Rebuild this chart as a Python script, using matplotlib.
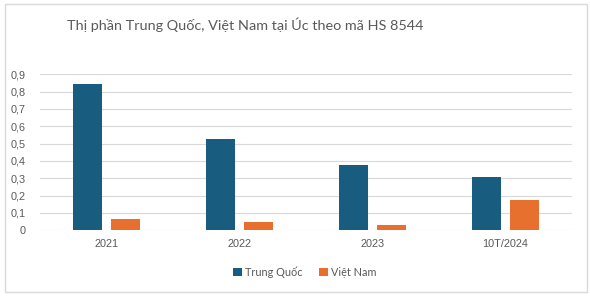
import numpy as np
import matplotlib.pyplot as plt
from matplotlib.patches import Rectangle

years = ["2021", "2022", "2023", "10T/2024"]
trung_quoc = [0.845, 0.527, 0.377, 0.308]
viet_nam = [0.065, 0.048, 0.032, 0.175]
yticks = [0, 0.1, 0.2, 0.3, 0.4, 0.5, 0.6, 0.7, 0.8, 0.9]

blue = "#185C80"
orange = "#E8702F"

fig = plt.figure(figsize=(5.9, 2.96), dpi=100)
ax = fig.add_axes([40 / 590, (296 - 230.3) / 296, 532 / 590, 156 / 296])

x = np.arange(len(years))
w = 0.22
off = 0.141
ax.bar(x - off, trung_quoc, w, color=blue, label="Trung Quốc", zorder=3)
ax.bar(x + off, viet_nam, w, color=orange, label="Việt Nam", zorder=3)

ax.set_xlim(-0.5, len(years) - 0.5)
ax.set_ylim(0, 0.9)
ax.set_yticks(yticks)
ax.set_yticklabels([("%g" % v).replace(".", ",") for v in yticks])
ax.set_xticks(x)
ax.set_xticklabels(years)
ax.tick_params(length=0, labelsize=7.8, colors="#595959", pad=10)
ax.tick_params(axis="x", pad=6)
for lab in ax.get_xticklabels() + ax.get_yticklabels():
    lab.set_family("Liberation Sans")
ax.grid(axis="y", color="#D9D9D9", linewidth=0.8, zorder=0)
for s in ax.spines.values():
    s.set_visible(False)

fig.text(67 / 590, 1 - 25 / 296, "Thị phần Trung Quốc, Việt Nam tại Úc theo mã HS 8544",
         fontsize=10.4, family="Lato", color="#595959", va="center", ha="left")

ax.legend(loc="center", ncol=2, frameon=False,
          prop={"family": "Lato", "size": 7.8}, handlelength=0.8, handleheight=0.8,
          handletextpad=0.3, columnspacing=1.5, labelcolor="#595959")
leg = ax.get_legend()
leg.set_bbox_to_anchor((305 / 590, 1 - 272 / 296), transform=fig.transFigure)

fig.patches.append(Rectangle((5 / 590, 4 / 296), 582 / 590, 288 / 296,
                             transform=fig.transFigure, fill=False,
                             edgecolor="#D9D9D9", linewidth=1))

fig.savefig("out.png", dpi=100)
